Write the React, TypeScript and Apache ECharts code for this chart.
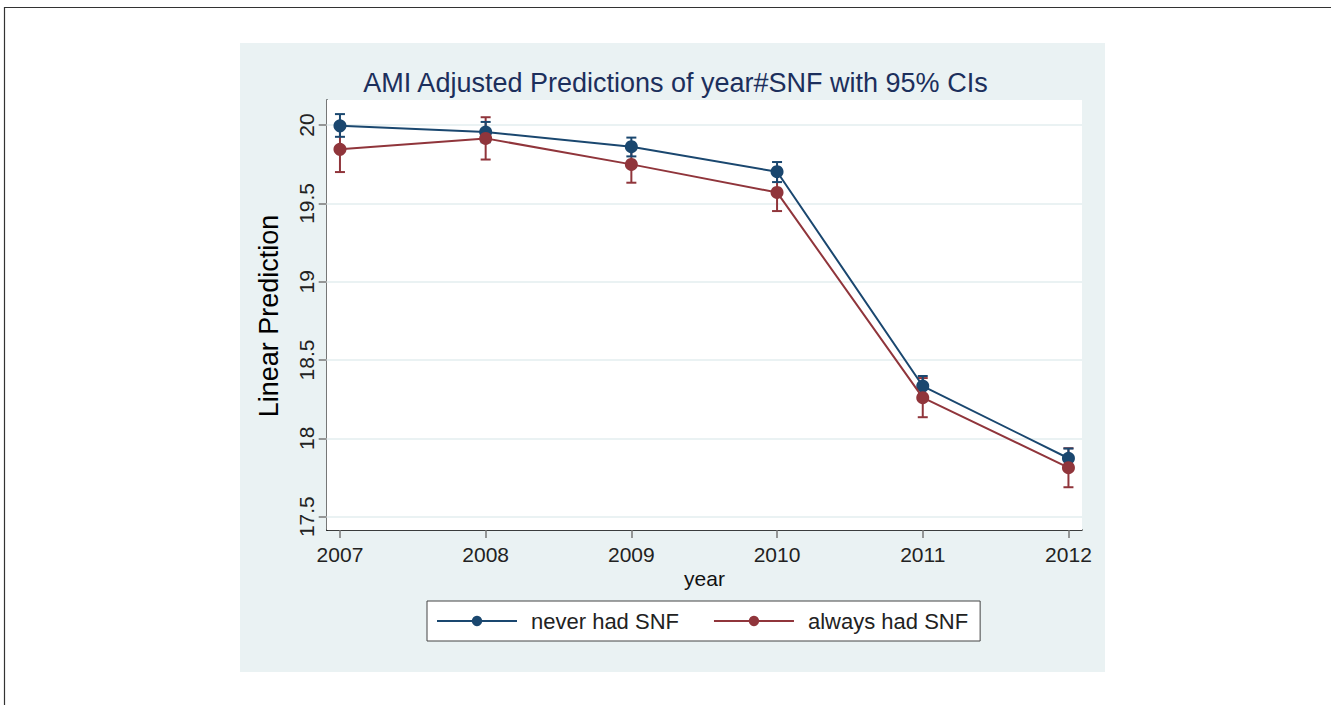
import React, { useEffect, useRef } from "react";
import * as echarts from "echarts";

const years = [2007, 2008, 2009, 2010, 2011, 2012];
const neverMean = [19.995, 19.955, 19.862, 19.702, 18.334, 17.873];
const neverLo = [19.925, 19.89, 19.8, 19.636, 18.27, 17.81];
const neverHi = [20.07, 20.02, 19.92, 19.764, 18.398, 17.935];
const alwaysMean = [19.845, 19.915, 19.749, 19.57, 18.26, 17.813];
const alwaysLo = [19.7, 19.78, 19.632, 19.451, 18.135, 17.688];
const alwaysHi = [19.99, 20.05, 19.866, 19.689, 18.385, 17.937];
const yTicks = [17.5, 18, 18.5, 19, 19.5, 20];
const seriesNames = ["never had SNF", "always had SNF"];
const titleText = "AMI Adjusted Predictions of year#SNF with 95% CIs";
const yAxisTitle = "Linear Prediction";
const xAxisTitle = "year";

const FONT = "'Liberation Sans', Arial, Helvetica, sans-serif";
const BLUE = "#1a476f";
const RED = "#90353b";
const PANEL = "#eaf2f3";

function makeCI(lo: number[], hi: number[], color: string, z: number) {
  return {
    type: "custom",
    name: "ci",
    z,
    silent: true,
    data: years.map((y, i) => [y, lo[i], hi[i]]),
    encode: { x: 0, y: [1, 2] },
    renderItem: (params: any, api: any) => {
      const x = api.value(0);
      const p1 = api.coord([x, api.value(1)]);
      const p2 = api.coord([x, api.value(2)]);
      const hw = 5;
      const style = { stroke: color, lineWidth: 2 };
      return {
        type: "group",
        children: [
          { type: "line", shape: { x1: p1[0], y1: p1[1], x2: p2[0], y2: p2[1] }, style },
          { type: "line", shape: { x1: p1[0] - hw, y1: p1[1], x2: p1[0] + hw, y2: p1[1] }, style },
          { type: "line", shape: { x1: p2[0] - hw, y1: p2[1], x2: p2[0] + hw, y2: p2[1] }, style },
        ],
      };
    },
  };
}

function makeLine(name: string, values: number[], color: string, z: number) {
  return {
    type: "line",
    name,
    z,
    data: years.map((y, i) => [y, values[i]]),
    symbol: "circle",
    symbolSize: 13,
    showSymbol: true,
    itemStyle: { color },
    lineStyle: { color, width: 2 },
    emphasis: { disabled: true },
  };
}

export default function App() {
  const ref = useRef<HTMLDivElement>(null);
  useEffect(() => {
    if (!ref.current) return;
    const chart = echarts.init(ref.current, undefined, { renderer: "svg" });
    chart.setOption({
      animation: false,
      backgroundColor: "#ffffff",
      grid: {
        left: 326.7,
        top: 100,
        right: 249,
        bottom: 175,
        show: true,
        backgroundColor: "#ffffff",
        borderWidth: 0,
        z: 1,
      },
      graphic: [
        {
          type: "rect",
          z: -10,
          shape: { x: 240, y: 43, width: 865, height: 629 },
          style: { fill: PANEL },
        },
        {
          type: "rect",
          z: -9,
          shape: { x: 4.5, y: 7.5, width: 1400, height: 800 },
          style: { fill: "none", stroke: "#333333", lineWidth: 1.2 },
        },
        {
          type: "text",
          x: 675.5,
          y: 83,
          style: {
            text: titleText,
            fill: "#1c2f5c",
            font: `27px ${FONT}`,
            textAlign: "center",
            textVerticalAlign: "middle",
          },
        },
        {
          type: "text",
          x: 269,
          y: 316,
          rotation: Math.PI / 2,
          style: {
            text: yAxisTitle,
            fill: "#000000",
            font: `27px ${FONT}`,
            textAlign: "center",
            textVerticalAlign: "middle",
          },
        },
        {
          type: "text",
          x: 704.5,
          y: 578,
          style: {
            text: xAxisTitle,
            fill: "#111111",
            font: `21px ${FONT}`,
            textAlign: "center",
            textVerticalAlign: "middle",
          },
        },
      ],
      legend: {
        data: seriesNames,
        left: 427,
        top: 601,
        orient: "horizontal",
        itemWidth: 80,
        itemHeight: 13,
        itemGap: 34,
        padding: [9, 12, 9, 9],
        borderColor: "#444444",
        borderWidth: 1,
        borderRadius: 0,
        backgroundColor: "#ffffff",
        selectedMode: false,
        textStyle: {
          fontSize: 22,
          color: "#222222",
          fontFamily: FONT,
          padding: [0, 0, 0, 9],
        },
      },
      xAxis: {
        type: "value",
        min: 2006.909,
        max: 2012.093,
        axisLine: { show: true, onZero: false, lineStyle: { color: "#000000", width: 1.5 } },
        axisTick: {
          show: true,
          customValues: years,
          length: 8,
          lineStyle: { color: "#777777", width: 1.5 },
        },
        axisLabel: {
          customValues: years,
          formatter: (v: number) => String(Math.round(v)),
          fontSize: 21,
          color: "#222222",
          fontFamily: FONT,
          margin: 14,
        },
        splitLine: { show: false },
      },
      yAxis: {
        type: "value",
        min: 17.415,
        max: 20.16,
        axisLine: { show: true, lineStyle: { color: "#000000", width: 1.5 } },
        axisTick: {
          show: true,
          customValues: yTicks,
          length: 8,
          lineStyle: { color: "#777777", width: 1.5 },
        },
        axisLabel: {
          customValues: yTicks,
          rotate: 90,
          formatter: (v: number) => String(v),
          fontSize: 21,
          color: "#222222",
          fontFamily: FONT,
          margin: 10,
        },
        splitLine: { show: false },
      },
      series: [
        {
          type: "line",
          name: "grid",
          data: [],
          z: 1.5,
          silent: true,
          markLine: {
            z: 1.5,
            silent: true,
            symbol: "none",
            label: { show: false },
            emphasis: { disabled: true },
            lineStyle: { color: PANEL, width: 2, type: "solid" },
            data: yTicks.map((v) => ({ yAxis: v })),
          },
        },
        makeCI(alwaysLo, alwaysHi, RED, 2),
        makeCI(neverLo, neverHi, BLUE, 2.1),
        makeLine(seriesNames[0], neverMean, BLUE, 3),
        makeLine(seriesNames[1], alwaysMean, RED, 3.1),
      ],
    });
    return () => chart.dispose();
  }, []);
  return (
    <div
      ref={ref}
      style={{ position: "fixed", left: 0, top: 0, width: 1331, height: 705 }}
    />
  );
}
